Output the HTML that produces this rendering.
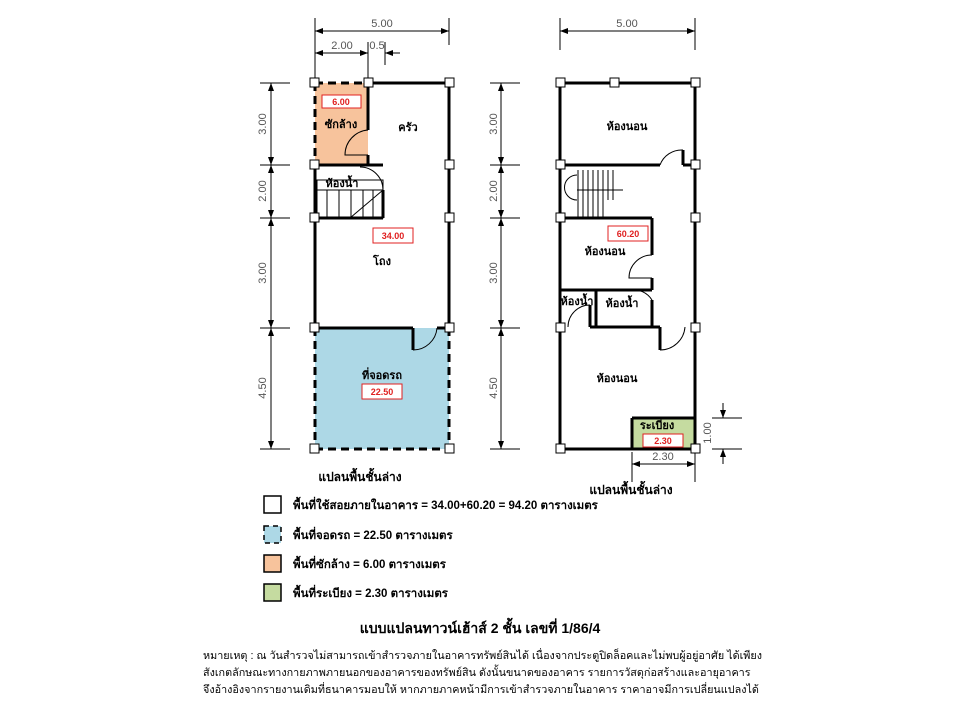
<!DOCTYPE html>
<html><head><meta charset="utf-8"><style>
body{margin:0;background:#fff;width:960px;height:720px;overflow:hidden;position:relative;font-family:"Liberation Sans","Noto Sans CJK SC",sans-serif}
</style></head><body>
<svg width="960" height="720" style="position:absolute;left:0;top:0" font-family="Liberation Sans, Noto Sans CJK SC, sans-serif">
<defs><marker id="a" markerWidth="8" markerHeight="6" refX="8" refY="3" orient="auto-start-reverse"><path d="M0,0L8,3L0,6z" fill="#000"/></marker></defs>
<rect x="315" y="83" width="53" height="82" fill="#f7c39c"/>
<rect x="315" y="328" width="134" height="121" fill="#add8e6"/>
<g stroke="#000" stroke-width="3" fill="none">
<line x1="368" y1="83" x2="449" y2="83"/>
<line x1="449" y1="83" x2="449" y2="328"/>
<line x1="315" y1="165" x2="315" y2="328"/>
<line x1="315" y1="328" x2="413" y2="328"/>
<line x1="437" y1="328" x2="449" y2="328"/>
<line x1="368" y1="83" x2="368" y2="130"/>
<line x1="368" y1="155" x2="368" y2="165"/>
<line x1="315" y1="165" x2="383" y2="165"/>
<line x1="383" y1="190" x2="383" y2="218"/>
<line x1="315" y1="218" x2="383" y2="218"/>
<line x1="413" y1="328" x2="413" y2="350"/>
</g>
<g stroke="#000" stroke-width="3" stroke-dasharray="8,5" fill="none">
<line x1="315" y1="83" x2="368" y2="83"/><line x1="315" y1="83" x2="315" y2="165"/>
<line x1="315" y1="328" x2="315" y2="449"/><line x1="315" y1="449" x2="449" y2="449"/><line x1="449" y1="328" x2="449" y2="449"/>
</g>
<g stroke="#000" stroke-width="1" fill="none">
<path d="M368,130 A25,25 0 0 0 345,155 L368,155"/>
<path d="M383,190 A23,23 0 0 0 360,167"/>
<path d="M413,350 A24,24 0 0 0 437,328"/>
<rect x="317" y="180" width="66" height="38"/>
<line x1="327" y1="190" x2="327" y2="218"/><line x1="339" y1="190" x2="339" y2="218"/><line x1="351" y1="190" x2="351" y2="218"/><line x1="363" y1="190" x2="363" y2="218"/><line x1="373" y1="190" x2="373" y2="218"/>
<line x1="350" y1="218" x2="383" y2="190"/><line x1="317" y1="190" x2="383" y2="190"/>
</g>
<g stroke="#000" stroke-width="1">
<line x1="315" y1="18" x2="315" y2="78"/><line x1="449" y1="18" x2="449" y2="45"/>
<line x1="368" y1="42" x2="368" y2="78"/><line x1="385" y1="42" x2="385" y2="65"/>
<line x1="260" y1="83" x2="290" y2="83"/><line x1="260" y1="165" x2="290" y2="165"/><line x1="260" y1="218" x2="290" y2="218"/><line x1="260" y1="328" x2="290" y2="328"/><line x1="260" y1="449" x2="290" y2="449"/>
<line x1="315" y1="31" x2="449" y2="31" marker-start="url(#a)" marker-end="url(#a)"/>
<line x1="315" y1="53" x2="368" y2="53" marker-start="url(#a)" marker-end="url(#a)"/>
<line x1="400" y1="53" x2="385" y2="53" marker-end="url(#a)"/>
<line x1="271" y1="83" x2="271" y2="165" marker-start="url(#a)" marker-end="url(#a)"/>
<line x1="271" y1="165" x2="271" y2="218" marker-start="url(#a)" marker-end="url(#a)"/>
<line x1="271" y1="218" x2="271" y2="328" marker-start="url(#a)" marker-end="url(#a)"/>
<line x1="271" y1="328" x2="271" y2="449" marker-start="url(#a)" marker-end="url(#a)"/>
</g>
<g fill="#555" font-size="11" text-anchor="middle">
<text x="382" y="27">5.00</text><text x="342" y="49">2.00</text><text x="377" y="49">0.5</text>
<text transform="translate(266,124) rotate(-90)">3.00</text><text transform="translate(266,191) rotate(-90)">2.00</text>
<text transform="translate(266,273) rotate(-90)">3.00</text><text transform="translate(266,388) rotate(-90)">4.50</text>
</g>
<g fill="#fff" stroke="#000" stroke-width="1">
<rect x="310" y="78" width="9" height="9"/><rect x="364" y="78" width="9" height="9"/><rect x="445" y="78" width="9" height="9"/>
<rect x="310" y="160" width="9" height="9"/><rect x="445" y="160" width="9" height="9"/>
<rect x="310" y="213" width="9" height="9"/><rect x="445" y="213" width="9" height="9"/>
<rect x="310" y="323" width="9" height="9"/><rect x="445" y="323" width="9" height="9"/>
<rect x="310" y="444" width="9" height="9"/><rect x="445" y="444" width="9" height="9"/>
</g>
<rect x="632" y="418" width="63" height="31" fill="#c5dba0"/>
<g stroke="#000" stroke-width="3" fill="none">
<rect x="560" y="83" width="135" height="366"/>
<line x1="560" y1="165" x2="660" y2="165"/><line x1="683" y1="165" x2="695" y2="165"/>
<line x1="560" y1="218" x2="652" y2="218"/><line x1="652" y1="218" x2="652" y2="255"/><line x1="652" y1="278" x2="652" y2="290"/>
<line x1="560" y1="290" x2="652" y2="290"/><line x1="596" y1="290" x2="596" y2="327"/>
<line x1="590" y1="327" x2="660" y2="327"/><line x1="652" y1="300" x2="652" y2="327"/>
<line x1="590" y1="305" x2="590" y2="327"/>
<line x1="632" y1="418" x2="632" y2="449"/><line x1="632" y1="418" x2="695" y2="418"/>
<line x1="683" y1="165" x2="683" y2="150"/><line x1="660" y1="327" x2="660" y2="350"/>
</g>
<g stroke="#000" stroke-width="1" fill="none">
<path d="M683,150 A23,23 0 0 0 660,165"/>
<path d="M652,255 A23,23 0 0 0 629,278 L652,278"/>
<path d="M652,300 A22,22 0 0 0 630,290"/>
<path d="M590,305 A22,22 0 0 0 568,327"/>
<path d="M660,350 A25,25 0 0 0 685,327"/>
<line x1="577" y1="190" x2="623" y2="190"/>
<line x1="578" y1="170" x2="578" y2="218"/><line x1="583" y1="170" x2="583" y2="218"/><line x1="588" y1="170" x2="588" y2="218"/><line x1="593" y1="170" x2="593" y2="218"/><line x1="598" y1="170" x2="598" y2="218"/><line x1="603" y1="170" x2="603" y2="218"/><line x1="608" y1="170" x2="608" y2="200"/><line x1="613" y1="170" x2="613" y2="200"/>
<path d="M577,175 A12,12 0 0 0 577,200"/>
</g>
<g stroke="#000" stroke-width="1">
<line x1="560" y1="18" x2="560" y2="50"/><line x1="695" y1="18" x2="695" y2="50"/>
<line x1="560" y1="31" x2="695" y2="31" marker-start="url(#a)" marker-end="url(#a)"/>
<line x1="490" y1="83" x2="520" y2="83"/><line x1="490" y1="165" x2="520" y2="165"/><line x1="490" y1="218" x2="520" y2="218"/><line x1="490" y1="328" x2="520" y2="328"/><line x1="490" y1="449" x2="520" y2="449"/>
<line x1="501" y1="83" x2="501" y2="165" marker-start="url(#a)" marker-end="url(#a)"/>
<line x1="501" y1="165" x2="501" y2="218" marker-start="url(#a)" marker-end="url(#a)"/>
<line x1="501" y1="218" x2="501" y2="328" marker-start="url(#a)" marker-end="url(#a)"/>
<line x1="501" y1="328" x2="501" y2="449" marker-start="url(#a)" marker-end="url(#a)"/>
<line x1="632" y1="452" x2="632" y2="482"/><line x1="695" y1="452" x2="695" y2="482"/>
<line x1="632" y1="464" x2="695" y2="464" marker-start="url(#a)" marker-end="url(#a)"/>
<line x1="712" y1="418" x2="742" y2="418"/><line x1="712" y1="449" x2="742" y2="449"/>
<line x1="723" y1="403" x2="723" y2="418" marker-end="url(#a)"/><line x1="723" y1="464" x2="723" y2="449" marker-end="url(#a)"/>
</g>
<g fill="#555" font-size="11" text-anchor="middle">
<text x="627" y="27">5.00</text><text x="663" y="460">2.30</text>
<text transform="translate(497,124) rotate(-90)">3.00</text><text transform="translate(497,191) rotate(-90)">2.00</text>
<text transform="translate(497,273) rotate(-90)">3.00</text><text transform="translate(497,388) rotate(-90)">4.50</text>
<text transform="translate(711,433) rotate(-90)">1.00</text>
</g>
<g fill="#fff" stroke="#000" stroke-width="1">
<rect x="556" y="78" width="9" height="9"/><rect x="610" y="78" width="9" height="9"/><rect x="691" y="78" width="9" height="9"/>
<rect x="556" y="160" width="9" height="9"/><rect x="691" y="160" width="9" height="9"/>
<rect x="556" y="213" width="9" height="9"/><rect x="691" y="213" width="9" height="9"/>
<rect x="556" y="323" width="9" height="9"/><rect x="691" y="323" width="9" height="9"/>
<rect x="556" y="444" width="9" height="9"/><rect x="691" y="444" width="9" height="9"/>
</g>
<g fill="#fff" stroke="#e02020" stroke-width="1">
<rect x="322" y="95" width="39" height="13"/><rect x="373" y="228" width="40" height="15"/><rect x="362" y="384" width="40" height="15"/>
<rect x="608" y="226" width="40" height="15"/><rect x="643" y="434" width="40" height="13"/>
</g>
<g fill="#e02020" font-size="9" font-weight="bold" text-anchor="middle">
<text x="341" y="105">6.00</text><text x="393" y="239">34.00</text><text x="382" y="395">22.50</text>
<text x="628" y="237">60.20</text><text x="663" y="444">2.30</text>
</g>
<g fill="#000" font-size="11" font-weight="bold" text-anchor="middle">
<text x="341" y="128">ซักล้าง</text><text x="408" y="131">ครัว</text><text x="342" y="187">ห้องน้ำ</text>
<text x="382" y="265">โถง</text><text x="382" y="379">ที่จอดรถ</text>
<text x="627" y="130">ห้องนอน</text><text x="605" y="255">ห้องนอน</text>
<text x="577" y="305">ห้องน้ำ</text><text x="622" y="307">ห้องน้ำ</text>
<text x="617" y="382">ห้องนอน</text><text x="657" y="429">ระเบียง</text>
<text x="360" y="481" font-size="12">แปลนพื้นชั้นล่าง</text><text x="631" y="494" font-size="12">แปลนพื้นชั้นล่าง</text>
</g>
<rect x="264" y="496" width="17" height="17" fill="#fff" stroke="#000" stroke-width="1.5"/>
<rect x="264" y="526" width="17" height="17" fill="#add8e6" stroke="#000" stroke-width="1.5" stroke-dasharray="5,4"/>
<rect x="264" y="555" width="17" height="17" fill="#f7c39c" stroke="#000" stroke-width="1.5"/>
<rect x="264" y="584" width="17" height="17" fill="#c5dba0" stroke="#000" stroke-width="1.5"/>
<g fill="#000" font-size="11.5" font-weight="bold">
<text x="293" y="509">พื้นที่ใช้สอยภายในอาคาร = 34.00+60.20 = 94.20 ตารางเมตร</text>
<text x="293" y="539">พื้นที่จอดรถ = 22.50 ตารางเมตร</text>
<text x="293" y="568">พื้นที่ซักล้าง = 6.00  ตารางเมตร</text>
<text x="293" y="597">พื้นที่ระเบียง = 2.30 ตารางเมตร</text>
<text x="480" y="633" font-size="14" text-anchor="middle">แบบแปลนทาวน์เฮ้าส์ 2 ชั้น เลขที่ 1/86/4</text>
</g>
<g fill="#000" font-size="10.8">
<text x="203" y="659">หมายเหตุ : ณ วันสำรวจไม่สามารถเข้าสำรวจภายในอาคารทรัพย์สินได้ เนื่องจากประตูปิดล็อคและไม่พบผู้อยู่อาศัย ได้เพียง</text>
<text x="203" y="676">สังเกตลักษณะทางกายภาพภายนอกของอาคารของทรัพย์สิน ดังนั้นขนาดของอาคาร รายการวัสดุก่อสร้างและอายุอาคาร</text>
<text x="203" y="693">จึงอ้างอิงจากรายงานเดิมที่ธนาคารมอบให้ หากภายภาคหน้ามีการเข้าสำรวจภายในอาคาร ราคาอาจมีการเปลี่ยนแปลงได้</text>
</g>
</svg>
</body></html>
